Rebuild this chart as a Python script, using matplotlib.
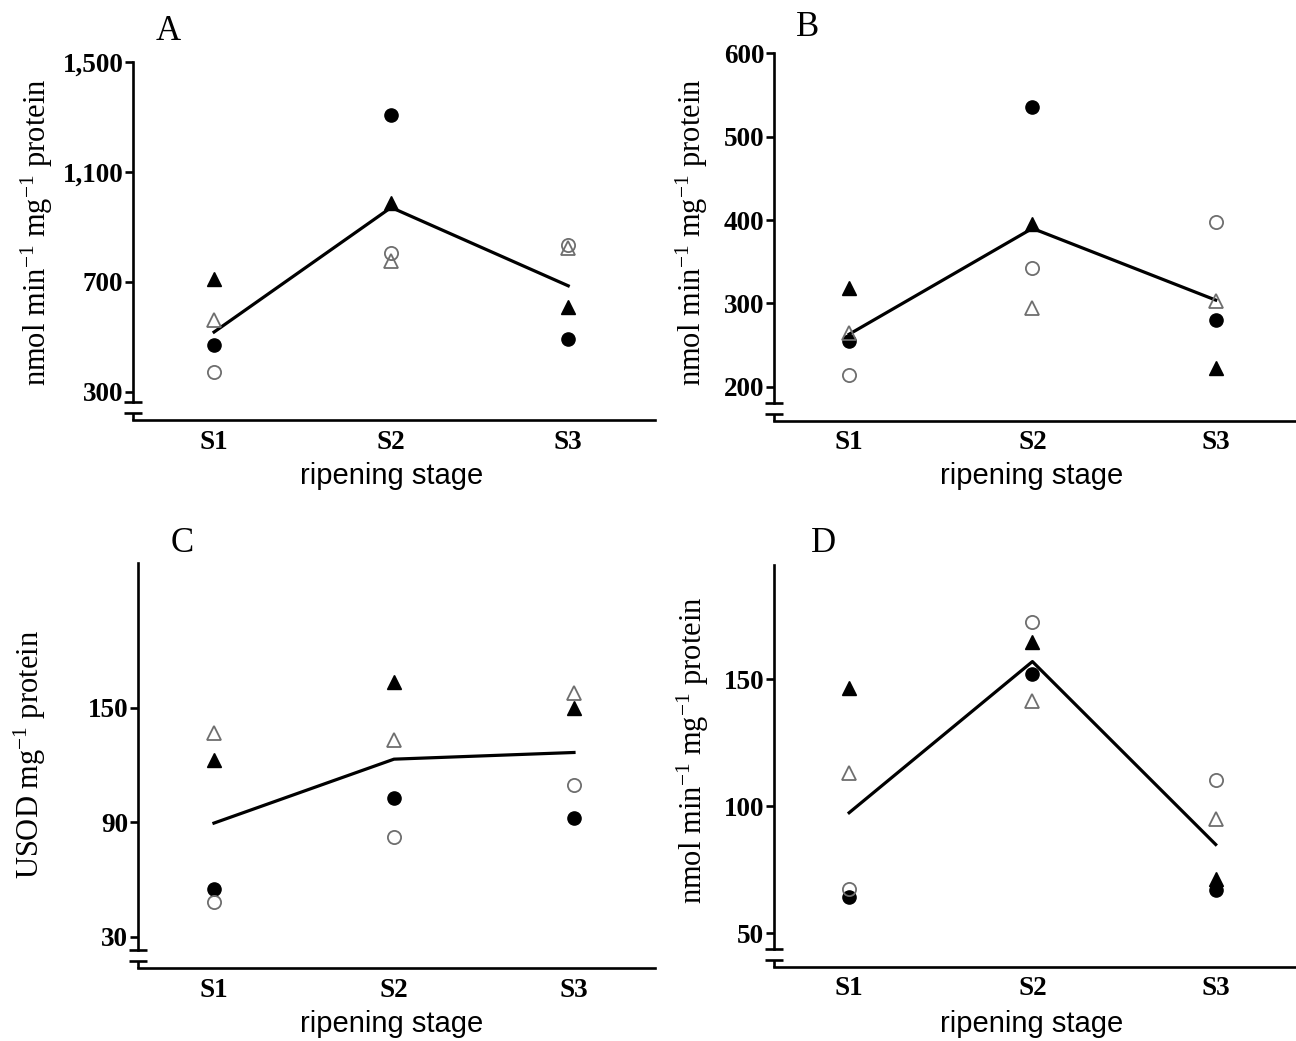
import matplotlib
matplotlib.use('Agg')
import matplotlib.pyplot as plt

plt.rcParams['font.family'] = 'Liberation Serif'
plt.rcParams['mathtext.fontset'] = 'custom'
plt.rcParams['mathtext.rm'] = 'Liberation Serif'
plt.rcParams['mathtext.it'] = 'Liberation Serif:italic'

W, H = 1296, 1041

stages = ['S1', 'S2', 'S3']
xpos = [1, 2, 3]

# panel A
a_fill_circle = [469, 1308, 493]
a_open_circle = [371, 806, 833]
a_fill_tri = [710, 989, 610]
a_open_tri = [563, 775, 824]
a_mean = [518, 971, 686]
a_ticks = [300, 700, 1100, 1500]
a_ticklabels = ['300', '700', '1,100', '1,500']

# panel B
b_fill_circle = [255, 536, 280]
b_open_circle = [214, 343, 398]
b_fill_tri = [318, 395, 222]
b_open_tri = [264, 295, 303]
b_mean = [263, 390, 304]
b_ticks = [200, 300, 400, 500, 600]

# panel C
c_fill_circle = [55, 102.5, 92]
c_open_circle = [48, 82, 109.5]
c_fill_tri = [122.5, 163.5, 150]
c_open_tri = [136.5, 133, 157.5]
c_mean = [89.5, 123, 126.5]
c_ticks = [30, 90, 150]

# panel D
d_fill_circle = [64.5, 152, 67]
d_open_circle = [67.5, 172.5, 110.5]
d_fill_tri = [146.5, 164.5, 71.5]
d_open_tri = [113, 141.5, 95]
d_mean = [97.5, 157, 85]
d_ticks = [50, 100, 150]

fig = plt.figure(figsize=(W / 100, H / 100), dpi=100)

grey = '#6e6e6e'
lw_axis = 1.9
tick_fs = 19.5


def make_ax(left, top, right, bottom):
    return fig.add_axes([left / W, 1 - bottom / H, (right - left) / W, (bottom - top) / H])


def draw_panel(ax, wpx, hpx, ylim, xlim, ticks, ticklabels,
               fc, oc, ft, ot, mean):
    ax.set_xlim(*xlim)
    ax.set_ylim(*ylim)
    ax.plot(xpos, mean, color='black', lw=2.3, zorder=2)
    ax.plot(xpos, fc, 'o', ms=9.5, color='black', zorder=3)
    ax.plot(xpos, oc, 'o', ms=9.5, mfc='none', mec=grey, mew=1.3, zorder=3)
    ax.plot(xpos, ft, '^', ms=9.5, color='black', zorder=3)
    ax.plot(xpos, ot, '^', ms=9.5, mfc='none', mec=grey, mew=1.3, zorder=3)

    for s in ['top', 'right']:
        ax.spines[s].set_visible(False)
    ax.spines['left'].set_linewidth(lw_axis)
    ax.spines['bottom'].set_linewidth(lw_axis)

    # axis break near the bottom of the y axis
    up = 18 / hpx
    low = 7 / hpx
    half = 9 / wpx
    ax.spines['left'].set_bounds(ylim[0] + up * (ylim[1] - ylim[0]), ylim[1])
    kw = dict(transform=ax.transAxes, clip_on=False, color='black',
              lw=lw_axis, solid_capstyle='butt')
    ax.plot([-half, half], [up, up], **kw)
    ax.plot([-half, half], [low, low], **kw)
    ax.plot([0, 0], [0, low], **kw)

    ax.set_yticks(ticks)
    ax.set_yticklabels(ticklabels if ticklabels else [str(t) for t in ticks])
    ax.tick_params(axis='y', direction='out', length=6, width=lw_axis, pad=1,
                   labelsize=tick_fs)
    ax.set_xticks(xpos)
    ax.set_xticklabels(stages)
    ax.tick_params(axis='x', length=0, pad=7, labelsize=tick_fs)
    for lab in ax.get_xticklabels() + ax.get_yticklabels():
        lab.set_fontweight('bold')


def ftext(x, y, s, **kw):
    fig.text(x / W, 1 - y / H, s, **kw)


ylab_nmol = 'nmol min$^{-1}$ mg$^{-1}$ protein'
letter_fs = 25
ylab_fs = 22
xlab_fs = 21

# A
axA = make_ax(133, 62, 655, 420)
draw_panel(axA, 522, 358, (198, 1500), (0.542, 3.49), a_ticks, a_ticklabels,
           a_fill_circle, a_open_circle, a_fill_tri, a_open_tri, a_mean)
ftext(168, 32, 'A', fontsize=letter_fs, ha='center', va='center')
ftext(37, 232, ylab_nmol, fontsize=ylab_fs, rotation=90, ha='center', va='center')
ftext(392, 476, 'ripening stage', fontsize=xlab_fs, family='Liberation Sans',
      ha='center', va='center')

# B
axB = make_ax(774, 53.3, 1300, 420.7)
draw_panel(axB, 526, 367.4, (159.3, 600), (0.59, 3.46), b_ticks, None,
           b_fill_circle, b_open_circle, b_fill_tri, b_open_tri, b_mean)
ftext(808, 28, 'B', fontsize=letter_fs, ha='center', va='center')
ftext(692, 232, ylab_nmol, fontsize=ylab_fs, rotation=90, ha='center', va='center')
ftext(1032, 476, 'ripening stage', fontsize=xlab_fs, family='Liberation Sans',
      ha='center', va='center')

# C
axC = make_ax(138, 563, 655, 968.3)
draw_panel(axC, 517, 405.3, (13.4, 225.8), (0.578, 3.45), c_ticks, None,
           c_fill_circle, c_open_circle, c_fill_tri, c_open_tri, c_mean)
ftext(182, 544, 'C', fontsize=letter_fs, ha='center', va='center')
ftext(30, 755, 'USOD mg$^{-1}$ protein', fontsize=ylab_fs, rotation=90,
      ha='center', va='center')
ftext(392, 1024, 'ripening stage', fontsize=xlab_fs, family='Liberation Sans',
      ha='center', va='center')

# D
axD = make_ax(774, 565, 1300, 966.7)
draw_panel(axD, 526, 401.7, (36.9, 195), (0.59, 3.46), d_ticks, None,
           d_fill_circle, d_open_circle, d_fill_tri, d_open_tri, d_mean)
ftext(823, 544, 'D', fontsize=letter_fs, ha='center', va='center')
ftext(693, 750, ylab_nmol, fontsize=ylab_fs, rotation=90, ha='center', va='center')
ftext(1032, 1024, 'ripening stage', fontsize=xlab_fs, family='Liberation Sans',
      ha='center', va='center')

fig.savefig('out.png', dpi=100)
